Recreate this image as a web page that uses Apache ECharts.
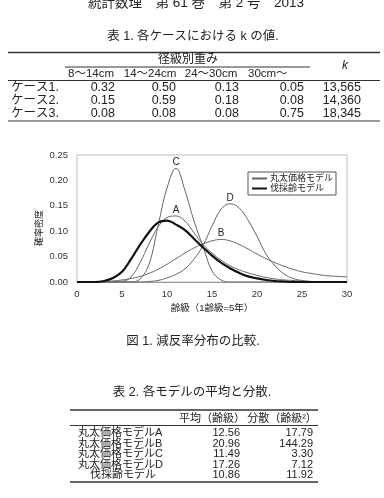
<!DOCTYPE html>
<html>
<head>
<meta charset="utf-8">
<script src="https://cdn.jsdelivr.net/npm/echarts@6/dist/echarts.min.js"></script>
<style>
  html, body { margin: 0; padding: 0; background: #fff; }
  #main { width: 384px; height: 498px; }
</style>
</head>
<body>
<div id="main"></div>
<script>
// age classes on the x axis (1 class = 5 years)
var ages = [];
for (var i = 0; i <= 30; i++) ages.push(i);

// densities, one value per age class
var modelA = [0,0,0,0,0,0.001,0.01,0.038,0.075,0.108,0.127,0.13,0.12,0.097,0.074,0.057,0.043,0.032,0.024,0.018,0.013,0.009,0.006,0.004,0.003,0.002,0.001,0,0,0,0];
var modelB = [0,0,0,0.001,0.002,0.004,0.007,0.011,0.017,0.025,0.035,0.046,0.057,0.067,0.075,0.081,0.084,0.081,0.074,0.065,0.055,0.046,0.038,0.031,0.025,0.02,0.017,0.014,0.012,0.011,0.01];
var modelC = [0,0,0,0,0,0,0,0.006,0.035,0.11,0.185,0.224,0.18,0.12,0.07,0.022,0.004,0,0,0,0,0,0,0,0,0,0,0,0,0,0];
var modelD = [0,0,0,0,0,0,0,0,0.001,0.003,0.008,0.015,0.026,0.045,0.072,0.11,0.143,0.154,0.146,0.122,0.09,0.055,0.032,0.016,0.007,0.003,0.001,0,0,0,0];
var cutAge = [0,0,0,0.002,0.008,0.02,0.045,0.073,0.098,0.117,0.121,0.113,0.102,0.085,0.068,0.052,0.038,0.027,0.018,0.011,0.007,0.004,0.002,0.001,0,0,0,0,0,0,0];

// table 1
var sizeClasses = ['8〜14cm', '14〜24cm', '24〜30cm', '30cm〜'];
var caseNames = ['ケース1.', 'ケース2.', 'ケース3.'];
var caseWeights = [
  ['0.32', '0.50', '0.13', '0.05'],
  ['0.15', '0.59', '0.18', '0.08'],
  ['0.08', '0.08', '0.08', '0.75']
];
var caseK = ['13,565', '14,360', '18,345'];

// table 2
var modelNames = ['丸太価格モデルA', '丸太価格モデルB', '丸太価格モデルC', '丸太価格モデルD', '伐採齢モデル'];
var modelMeans = ['12.56', '20.96', '11.49', '17.26', '10.86'];
var modelVars = ['17.79', '144.29', '3.30', '7.12', '11.92'];

var FONT = '"Liberation Sans", "Noto Sans CJK JP", sans-serif';

function pairs(arr) {
  return arr.map(function (v, i) { return [ages[i], v]; });
}

function txt(s, x, y, size, align, style) {
  return { type: 'text', x: x, y: y, silent: true,
    style: { text: s, fill: '#222', font: (style ? style + ' ' : '') + size + 'px ' + FONT,
      align: align || 'center', verticalAlign: 'middle' } };
}
function hline(x1, x2, y, w) {
  return { type: 'line', silent: true, shape: { x1: x1, y1: y, x2: x2, y2: y },
    style: { stroke: '#333', lineWidth: w || 1 } };
}

var g = [];
g.push(txt('統計数理　第 61 巻　第 2 号　2013', 196, 3, 13.5));
g.push(txt('表 1. 各ケースにおける k の値.', 193, 36.5, 12.5));
// table 1
g.push(hline(8, 380, 52.5, 1.6));
g.push(txt('径級別重み', 188, 60, 12));
g.push(hline(65, 310, 67, 1));
g.push(txt('k', 345, 66, 12, 'center', 'italic'));
var subX = [91, 150, 211, 248];
sizeClasses.forEach(function (s, i) { g.push(txt(s, subX[i], 74, 11.5, i === 3 ? 'left' : 'center')); });
g.push(hline(8, 380, 80.5, 1.2));
var rowY = [88, 101, 114];
var colR = [115, 176, 239, 304];
caseNames.forEach(function (n, r) {
  g.push(txt(n, 11, rowY[r], 12.5, 'left'));
  caseWeights[r].forEach(function (v, c) { g.push(txt(v, colR[c], rowY[r], 12.5, 'right')); });
  g.push(txt(caseK[r], 361, rowY[r], 12.5, 'right'));
});
g.push(hline(8, 380, 121, 1.2));
// figure caption and axis titles
g.push({ type: 'text', x: 40, y: 228, rotation: Math.PI / 2, silent: true,
  style: { text: '確率密度', fill: '#222', font: '9px ' + FONT, align: 'center', verticalAlign: 'middle' } });
g.push(txt('齢級（1齢級=5年）', 212, 308, 9.5));
g.push(txt('図 1. 減反率分布の比較.', 193, 342, 12.5));
// table 2
g.push(txt('表 2. 各モデルの平均と分散.', 192, 393, 12.5));
g.push(hline(70, 318, 410, 1.3));
g.push(txt('平均（齢級）', 212, 419, 11));
g.push(txt('分散（齢級²）', 282, 419, 11));
g.push(hline(70, 318, 425.5, 1));
var row2Y = [433, 443.5, 454, 464.5, 475];
modelNames.forEach(function (n, r) {
  if (r === 4) g.push(txt(n, 123, row2Y[r], 11));
  else g.push(txt(n, 78, row2Y[r], 11, 'left'));
  g.push(txt(modelMeans[r], 240, row2Y[r], 11, 'right'));
  g.push(txt(modelVars[r], 313, row2Y[r], 11, 'right'));
});
g.push(hline(70, 318, 482, 1.6));

var thin = { color: '#666', width: 1 };
var thick = { color: '#111', width: 2.2 };

function peakMark(letter) {
  return {
    symbol: 'circle', symbolSize: 0, silent: true,
    data: [{ type: 'max' }],
    label: { show: true, formatter: letter, position: 'top', distance: 1,
      fontSize: 10, color: '#222', fontFamily: FONT }
  };
}

function curve(name, arr, style, letter) {
  var s = { name: name, type: 'line', smooth: 0.4, symbol: 'none', lineStyle: style,
    itemStyle: { color: style.color }, data: pairs(arr) };
  if (letter) s.markPoint = peakMark(letter);
  return s;
}

var myChart = echarts.init(document.getElementById('main'));
var option = {
  backgroundColor: '#fff',
  animation: false,
  grid: { left: 77, top: 155, width: 270, height: 127, show: true, borderColor: '#bbb', borderWidth: 1 },
  legend: {
    orient: 'vertical', left: 248, top: 172, padding: [2, 3], itemGap: 1,
    itemWidth: 15, itemHeight: 8, borderColor: '#555', borderWidth: 1,
    itemStyle: { opacity: 0 },
    data: ['丸太価格モデル', '伐採齢モデル'],
    textStyle: { fontSize: 9, color: '#222', fontFamily: FONT, padding: [0, 0, 0, -2] }
  },
  xAxis: {
    type: 'value', min: 0, max: 30, interval: 5,
    axisLine: { lineStyle: { color: '#999' } },
    axisTick: { show: false },
    splitLine: { show: false },
    axisLabel: { fontSize: 9.5, color: '#333', margin: 8, fontFamily: FONT }
  },
  yAxis: {
    type: 'value', min: 0, max: 0.25, interval: 0.05,
    axisLine: { show: false },
    axisTick: { show: false },
    splitLine: { show: false },
    axisLabel: { fontSize: 9.5, color: '#333', margin: 9, fontFamily: FONT,
      formatter: function (v) { return v.toFixed(2); } }
  },
  graphic: g,
  series: [
    curve('丸太価格モデル', modelA, thin, 'A'),
    curve('丸太価格モデル', modelB, thin, 'B'),
    curve('丸太価格モデル', modelC, thin, 'C'),
    curve('丸太価格モデル', modelD, thin, 'D'),
    curve('伐採齢モデル', cutAge, thick)
  ]
};
myChart.setOption(option);
</script>
</body>
</html>
